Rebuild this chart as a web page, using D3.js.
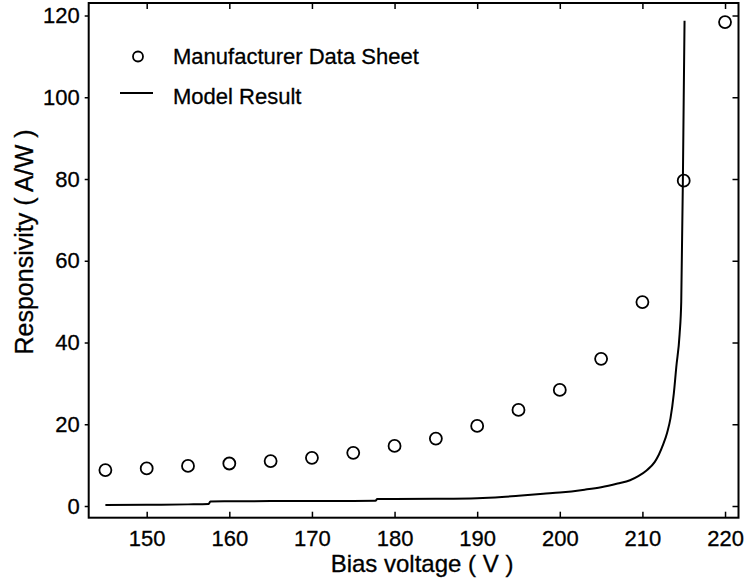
<!DOCTYPE html>
<html>
<head>
<meta charset="utf-8">
<script src="https://cdn.jsdelivr.net/npm/d3@7"></script>
<style>
  html, body { margin: 0; padding: 0; background: #fff; }
  svg { display: block; }
  text { font-family: "Liberation Sans", Arial, Helvetica, sans-serif; fill: #000; stroke: #000; stroke-width: 0.3px; }
</style>
</head>
<body>
<svg id="chart" width="746" height="586"></svg>
<script>
// Manufacturer data sheet points
const sheetVoltage = [145, 150, 155, 160, 165, 170, 175, 180, 185, 190, 195, 200, 205, 210, 215, 220];
const sheetResp    = [8.8, 9.2, 9.8, 10.4, 11, 11.8, 13, 14.7, 16.5, 19.6, 23.5, 28.4, 36, 49.9, 79.6, 118.4];

// Model result curve
const modelVoltage = [145, 150, 155, 157.5, 157.7, 160, 165, 170, 175, 177.7, 177.9, 180, 185, 190, 193, 195, 198, 200, 203, 205, 207, 208.5, 209.5, 210.5, 211.5, 212, 212.5, 213, 213.4, 213.8, 214.1, 214.5, 214.7, 214.9, 215.0, 215.1];
const modelResp    = [0.25, 0.3, 0.4, 0.5, 1.1, 1.15, 1.2, 1.2, 1.25, 1.3, 1.7, 1.7, 1.75, 1.9, 2.2, 2.5, 3.0, 3.3, 4.0, 4.6, 5.5, 6.3, 7.3, 8.7, 10.8, 12.6, 15.0, 18.0, 21.5, 27.5, 34, 42, 50, 80, 100, 118.7];

const xTicks = [150, 160, 170, 180, 190, 200, 210, 220];
const yTicks = [0, 20, 40, 60, 80, 100, 120];

const legendLabels = ["Manufacturer Data Sheet", "Model Result"];
const xTitle = "Bias voltage ( V )";
const yTitle = "Responsivity ( A/W )";

(function () {
const L = 88.7, R = 738.5, T = 3, B = 517.7;
const svg = d3.select("#chart");

const x = d3.scaleLinear().domain([142.98, 221.63]).range([L, R]);
const y = d3.scaleLinear().domain([-2.86, 123.06]).range([B, T]);

// Frame
svg.append("rect").attr("x", L).attr("y", T).attr("width", R - L).attr("height", B - T)
  .attr("fill", "none").attr("stroke", "#000").attr("stroke-width", 2);

// Axes
const fs = 22;
const gBottom = svg.append("g").attr("transform", `translate(0,${B})`)
  .call(d3.axisBottom(x).tickValues(xTicks).tickSize(-6).tickPadding(13).tickFormat(d3.format("d")));
const gTop = svg.append("g").attr("transform", `translate(0,${T})`)
  .call(d3.axisTop(x).tickValues(xTicks).tickSize(-6).tickFormat(""));
const gLeft = svg.append("g").attr("transform", `translate(${L},0)`)
  .call(d3.axisLeft(y).tickValues(yTicks).tickSize(4).tickPadding(5).tickFormat(d3.format("d")));
const gRight = svg.append("g").attr("transform", `translate(${R},0)`)
  .call(d3.axisRight(y).tickValues(yTicks).tickSize(-6).tickFormat(""));

[gBottom, gTop, gLeft, gRight].forEach(g => {
  g.select(".domain").remove();
  g.selectAll(".tick line").attr("stroke", "#000").attr("stroke-width", 1.5);
  g.selectAll(".tick text").attr("font-size", fs).attr("font-family", null).attr("fill", "#000");
});
gBottom.selectAll(".tick text").attr("dy", "0.71em");

// Model line
const modelData = modelVoltage.map((v, i) => [v, modelResp[i]]);
svg.append("path").datum(modelData)
  .attr("fill", "none").attr("stroke", "#000").attr("stroke-width", 2)
  .attr("d", d3.line().curve(d3.curveMonotoneX).x(d => x(d[0])).y(d => y(d[1])));

// Data sheet circles
const sheetData = sheetVoltage.map((v, i) => [v, sheetResp[i]]);
svg.append("g").selectAll("circle").data(sheetData).join("circle")
  .attr("cx", d => x(d[0])).attr("cy", d => y(d[1])).attr("r", 6)
  .attr("fill", "none").attr("stroke", "#000").attr("stroke-width", 1.8);

// Legend
const lg = svg.append("g");
lg.append("circle").attr("cx", 138).attr("cy", 56.5).attr("r", 5)
  .attr("fill", "none").attr("stroke", "#000").attr("stroke-width", 1.8);
lg.append("line").attr("x1", 120).attr("x2", 153).attr("y1", 93).attr("y2", 93)
  .attr("stroke", "#000").attr("stroke-width", 2);
lg.append("text").attr("x", 173).attr("y", 64).attr("font-size", fs).text(legendLabels[0]);
lg.append("text").attr("x", 173).attr("y", 104).attr("font-size", fs).text(legendLabels[1]);

// Axis titles
svg.append("text").attr("x", 422).attr("y", 572).attr("text-anchor", "middle")
  .attr("font-size", 24).text(xTitle);
svg.append("text").attr("transform", "translate(33,242) rotate(-90)").attr("text-anchor", "middle")
  .attr("font-size", 25).text(yTitle);
})();
</script>
</body>
</html>
